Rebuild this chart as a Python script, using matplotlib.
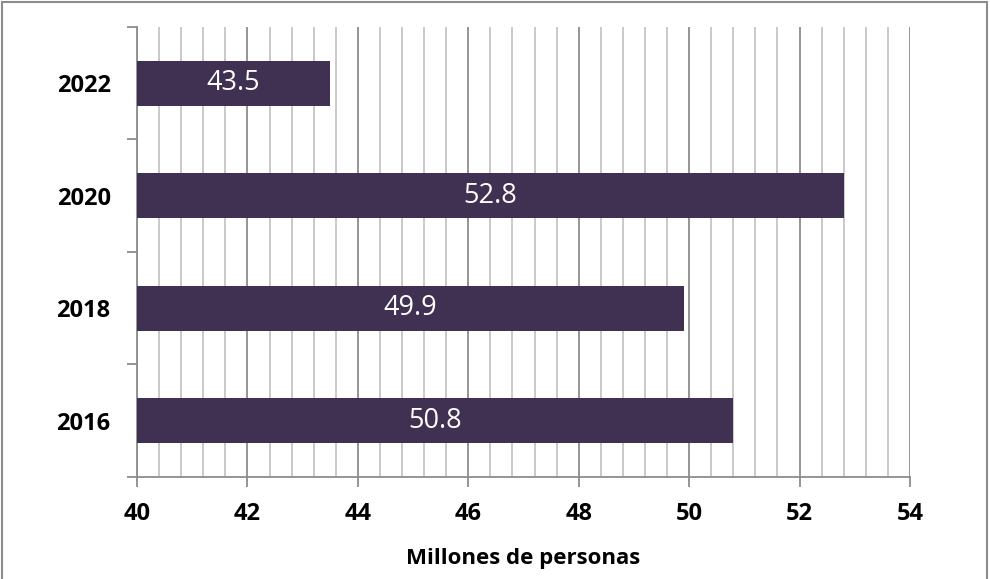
import matplotlib.pyplot as plt
from matplotlib.patches import Rectangle
from matplotlib.ticker import MultipleLocator

years = ['2016', '2018', '2020', '2022']
values = [50.8, 49.9, 52.8, 43.5]

bar_color = '#403152'
plt.rcParams['font.family'] = ['Open Sans', 'DejaVu Sans']
plt.rcParams['font.weight'] = 'bold'

fig = plt.figure(figsize=(9.9, 5.79), dpi=100)
ax = fig.add_axes([0.1384, 0.1762, 0.7808, 0.7772])

pos = range(len(years))
ax.barh(pos, values, left=0, height=0.4, color=bar_color, zorder=3)
for p, v in zip(pos, values):
    ax.text((40 + v) / 2, p, f'{v:.1f}', color='white', fontsize=19.5,
            fontweight='normal', ha='center', va='center', zorder=4)

ax.set_xlim(40, 54)
ax.set_ylim(-0.5, len(years) - 0.5)
ax.xaxis.set_major_locator(MultipleLocator(2))
ax.xaxis.set_minor_locator(MultipleLocator(0.4))
ax.grid(which='major', axis='x', color='#8c8c8c', lw=1.3, zorder=1)
ax.grid(which='minor', axis='x', color='#c0c0c0', lw=1.2, zorder=1)

# category ticks sit between the bars
ax.set_yticks(pos)
ax.set_yticklabels(years)
ax.set_yticks([i - 0.5 for i in range(len(years) + 1)], minor=True)
ax.tick_params(axis='y', which='major', length=0, pad=19, labelsize=17)
ax.tick_params(axis='y', which='minor', length=7, color='#8c8c8c', width=1.3)
ax.tick_params(axis='x', which='major', length=7, color='#8c8c8c', width=1.3,
               pad=11, labelsize=17)
ax.tick_params(axis='x', which='minor', length=0)

for side in ('top', 'right'):
    ax.spines[side].set_visible(False)
for side in ('left', 'bottom'):
    ax.spines[side].set_color('#8c8c8c')
    ax.spines[side].set_linewidth(1.3)

ax.set_xlabel('Millones de personas', fontsize=16, fontweight='bold', labelpad=16)

fig.patches.append(Rectangle((0.002, -0.01), 0.995, 1.006, transform=fig.transFigure,
                             fill=False, edgecolor='#8c8c8c', lw=1.5))

fig.savefig('out.png', dpi=100)
